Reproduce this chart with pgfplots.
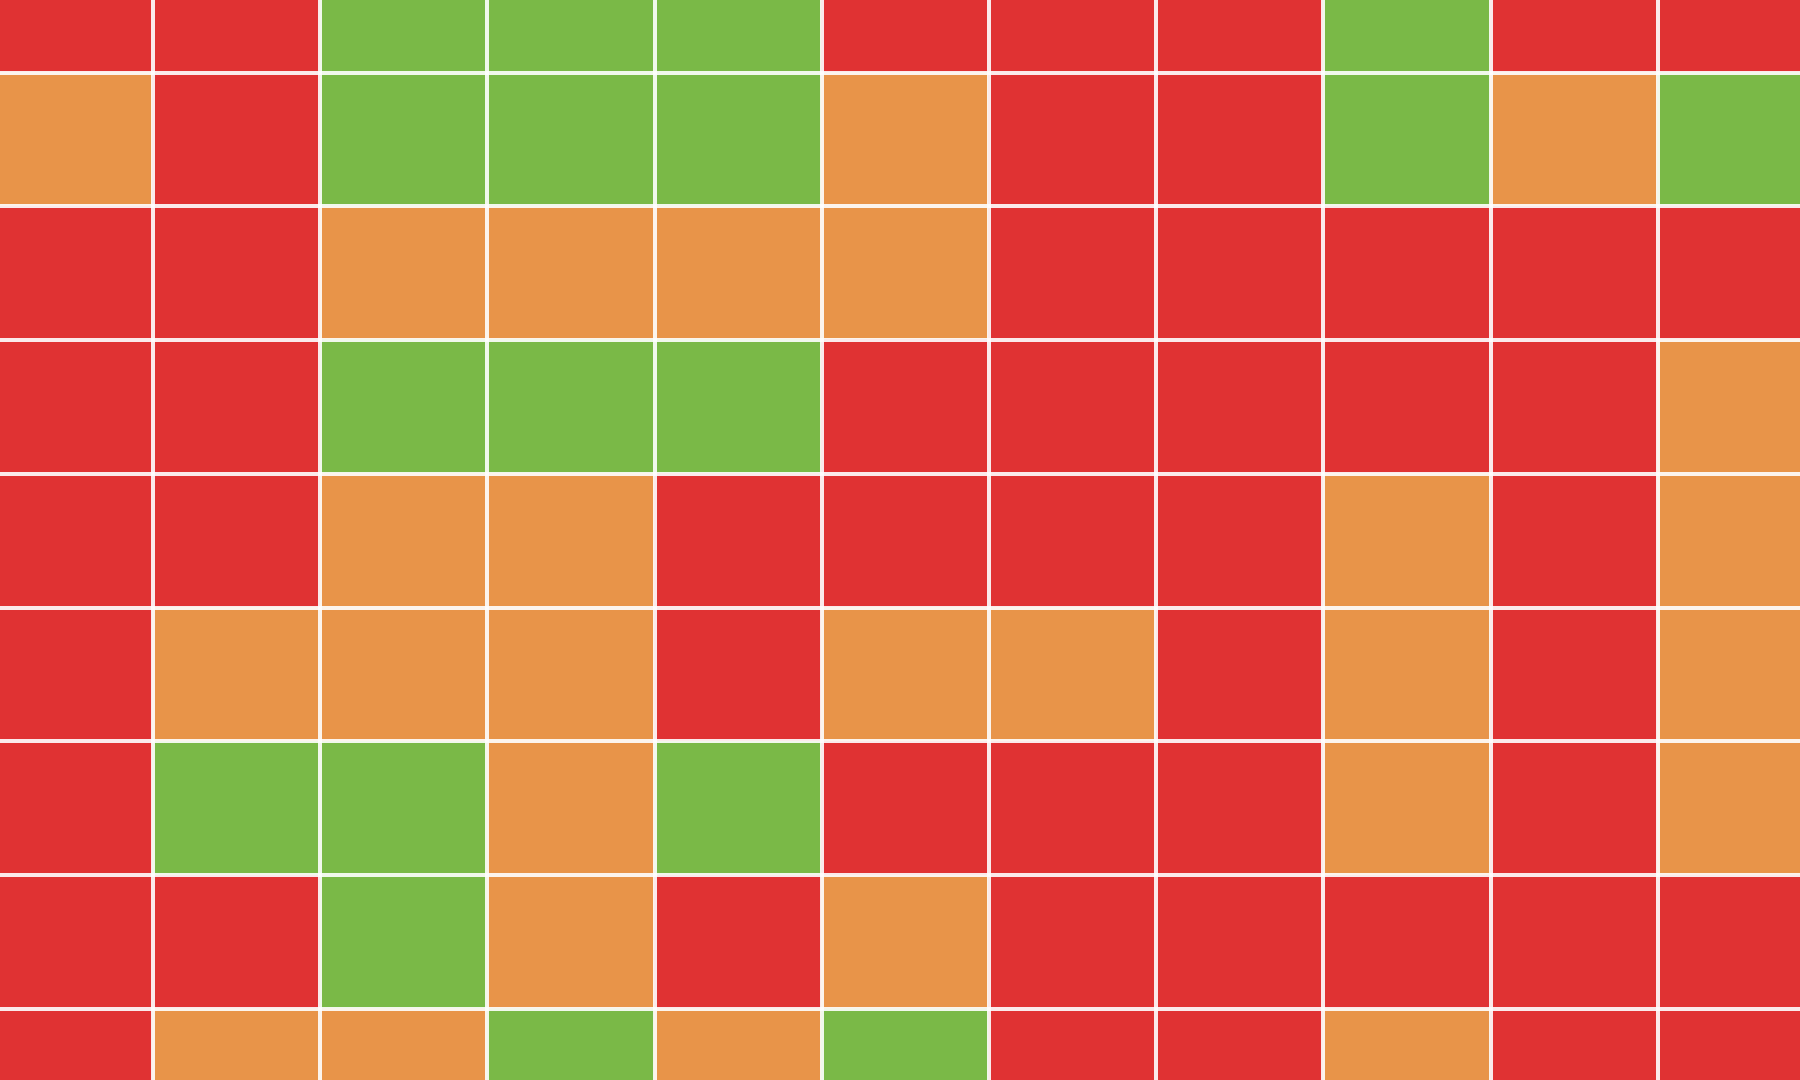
\documentclass[border=0pt]{standalone}
\usepackage{pgfplots}
\pgfplotsset{compat=1.18}
\usepackage{pgfplotstable}
\pgfplotstableread{
x y c
0 0 0
1 0 0
2 0 2
3 0 2
4 0 2
5 0 0
6 0 0
7 0 0
8 0 2
9 0 0
10 0 0
0 1 1
1 1 0
2 1 2
3 1 2
4 1 2
5 1 1
6 1 0
7 1 0
8 1 2
9 1 1
10 1 2
0 2 0
1 2 0
2 2 1
3 2 1
4 2 1
5 2 1
6 2 0
7 2 0
8 2 0
9 2 0
10 2 0
0 3 0
1 3 0
2 3 2
3 3 2
4 3 2
5 3 0
6 3 0
7 3 0
8 3 0
9 3 0
10 3 1
0 4 0
1 4 0
2 4 1
3 4 1
4 4 0
5 4 0
6 4 0
7 4 0
8 4 1
9 4 0
10 4 1
0 5 0
1 5 1
2 5 1
3 5 1
4 5 0
5 5 1
6 5 1
7 5 0
8 5 1
9 5 0
10 5 1
0 6 0
1 6 2
2 6 2
3 6 1
4 6 2
5 6 0
6 6 0
7 6 0
8 6 1
9 6 0
10 6 1
0 7 0
1 7 0
2 7 2
3 7 1
4 7 0
5 7 1
6 7 0
7 7 0
8 7 0
9 7 0
10 7 0
0 8 0
1 8 1
2 8 1
3 8 2
4 8 1
5 8 2
6 8 0
7 8 0
8 8 1
9 8 0
10 8 0
}\cells
\begin{document}
\begin{tikzpicture}
\begin{axis}[
  name=heat,
  scale only axis,
  width=18cm, height=10.8cm,
  xmin=-0.415, xmax=10.350,
  ymin=-0.0435, ymax=8.031,
  y dir=reverse,
  colormap={rog}{rgb255=(224,50,51) rgb255=(232,148,73) rgb255=(122,185,71)},
  colormap access=direct,
  point meta min=0, point meta max=2,
  xtick={-0.5,0.5,...,10.5},
  ytick={-0.5,0.5,...,8.5},
  xticklabels={}, yticklabels={},
  grid=major,
  major grid style={draw=white, line width=1.15pt, opacity=0.9},
  axis line style={draw=none},
  tick style={draw=none},
  axis on top,
]
\addplot[matrix plot*, mesh/cols=11, point meta=explicit] table[x=x, y=y, meta=c] {\cells};
\end{axis}
\pgfresetboundingbox
\path[use as bounding box] (heat.south west) rectangle (heat.north east);
\end{tikzpicture}
\end{document}
